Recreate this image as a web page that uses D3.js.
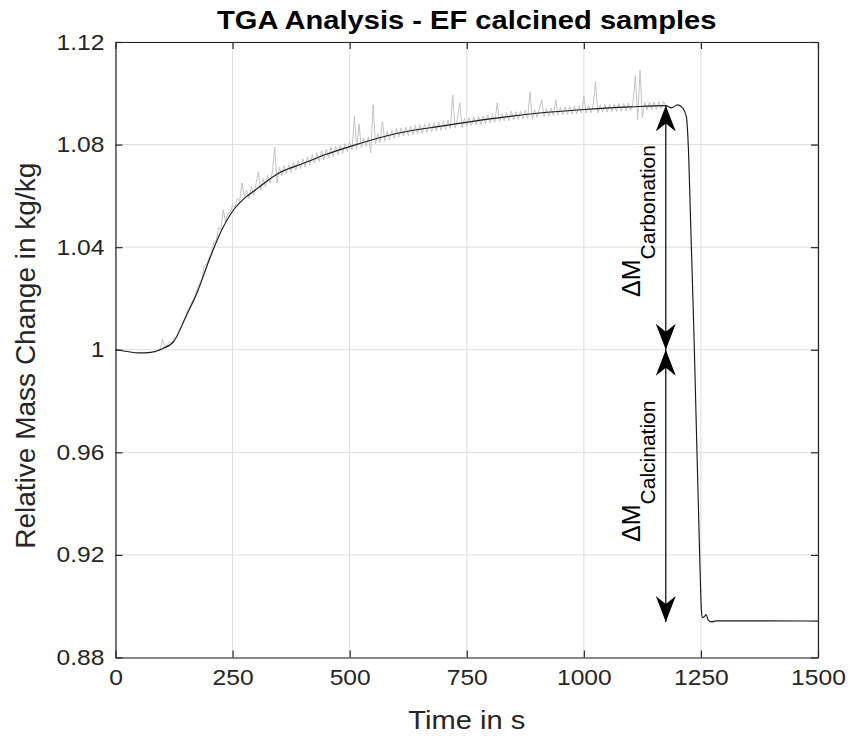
<!DOCTYPE html>
<html>
<head>
<meta charset="utf-8">
<script src="https://cdn.jsdelivr.net/npm/d3@7"></script>
<style>
  body { margin: 0; background: #fff; }
  svg { font-family: "Liberation Sans", Arial, sans-serif; }
</style>
</head>
<body>
<div id="chart"></div>
<script>
// smoothed mass curve (black)
const smoothT = [0, 25, 50, 75, 100, 125, 150, 175, 200, 225, 250, 275, 300, 350, 400, 450, 500, 600, 700, 800, 900, 1000, 1100, 1175, 1187, 1200, 1211, 1219, 1224, 1228, 1233, 1236, 1247, 1251, 1253, 1257, 1261, 1266, 1272, 1283, 1500];
const smoothV = [1.0000, 0.9993, 0.9988, 0.9990, 1.0004, 1.0034, 1.0128, 1.0226, 1.0350, 1.0460, 1.0540, 1.0590, 1.0625, 1.0690, 1.0726, 1.0762, 1.0792, 1.0843, 1.0873, 1.0900, 1.0922, 1.0937, 1.0947, 1.0952, 1.0943, 1.0955, 1.0943, 1.0908, 1.0750, 1.0500, 1.0195, 1.0000, 0.9220, 0.8986, 0.8955, 0.8959, 0.8967, 0.8945, 0.8939, 0.8943, 0.8942];

// raw measured signal (grey), one reading every 5 s from 80 s to 1175 s
const rawT = d3.range(80, 1180, 5);
const rawV = [
  0.9994, 0.9990, 0.9999, 0.9996, 1.0040, 1.0012, 1.0019, 1.0030, 1.0026, 1.0045, 1.0050, 1.0070, 1.0090, 1.0112, 1.0130, 1.0160, 1.0172, 1.0195, 1.0212, 1.0240,
  1.0262, 1.0280, 1.0330, 1.0332, 1.0362, 1.0380, 1.0420, 1.0425, 1.0475, 1.0468, 1.0546, 1.0500, 1.0530, 1.0535, 1.0565, 1.0556, 1.0590, 1.0578, 1.0650, 1.0598,
  1.0622, 1.0590, 1.0638, 1.0602, 1.0648, 1.0694, 1.0622, 1.0668, 1.0636, 1.0680, 1.0650, 1.0695, 1.0790, 1.0650, 1.0712, 1.0678, 1.0718, 1.0686, 1.0722, 1.0692,
  1.0730, 1.0700, 1.0738, 1.0706, 1.0745, 1.0712, 1.0752, 1.0720, 1.0760, 1.0728, 1.0768, 1.0734, 1.0776, 1.0740, 1.0782, 1.0748, 1.0790, 1.0754, 1.0794, 1.0760,
  1.0798, 1.0766, 1.0804, 1.0772, 1.0810, 1.0778, 1.0910, 1.0782, 1.0880, 1.0788, 1.0825, 1.0792, 1.0830, 1.0768, 1.0955, 1.0802, 1.0842, 1.0808, 1.0890, 1.0814,
  1.0852, 1.0818, 1.0856, 1.0824, 1.0862, 1.0830, 1.0865, 1.0833, 1.0868, 1.0836, 1.0872, 1.0838, 1.0875, 1.0842, 1.0878, 1.0845, 1.0880, 1.0848, 1.0884, 1.0850,
  1.0885, 1.0853, 1.0888, 1.0856, 1.0892, 1.0858, 1.0895, 1.0862, 1.0994, 1.0864, 1.0898, 1.0963, 1.0866, 1.0902, 1.0870, 1.0905, 1.0873, 1.0908, 1.0876, 1.0910,
  1.0878, 1.0912, 1.0881, 1.0915, 1.0884, 1.0918, 1.0887, 1.0963, 1.0889, 1.0921, 1.0892, 1.0924, 1.0894, 1.0930, 1.0896, 1.0928, 1.0898, 1.0931, 1.0900, 1.0934,
  1.0902, 1.1006, 1.0898, 1.0936, 1.0906, 1.0938, 1.0975, 1.0908, 1.0940, 1.0911, 1.0942, 1.0913, 1.0975, 1.0914, 1.0945, 1.0916, 1.0946, 1.0918, 1.0948, 1.0919,
  1.0950, 1.0920, 1.0951, 1.0921, 1.0990, 1.0922, 1.0953, 1.0923, 1.0954, 1.1045, 1.0924, 1.0956, 1.0926, 1.0957, 1.0927, 1.0958, 1.0928, 1.0959, 1.0929, 1.0960,
  1.0930, 1.0961, 1.0931, 1.0962, 1.0932, 1.0963, 1.1068, 1.0897, 1.1090, 1.0905, 1.0964, 1.0936, 1.0965, 1.0937, 1.0966, 1.0938, 1.0967, 1.0940, 1.0968, 1.0952
];

const xTicks = [0, 250, 500, 750, 1000, 1250, 1500];
const yTicks = [0.88, 0.92, 0.96, 1.00, 1.04, 1.08, 1.12];
const yTickLabels = ["0.88", "0.92", "0.96", "1", "1.04", "1.08", "1.12"];

// annotation arrows: time, start value, end value
const arrowTime = 1175;
const carbonation = [1.0, 1.0952];
const calcination = [1.0, 0.8938];

const width = 852, height = 738;
const margin = {left: 115.5, right: 34, top: 42, bottom: 80.5};
const sx = 1.12; // glyphs in the reference are horizontally stretched

const x = d3.scaleLinear().domain([0, 1500]).range([margin.left, width - margin.right]);
const y = d3.scaleLinear().domain([0.88, 1.12]).range([height - margin.bottom, margin.top]);

const svg = d3.select("#chart").append("svg")
  .attr("width", width)
  .attr("height", height);

const axisCol = "#262626";

// grid
svg.append("g")
  .selectAll("line")
  .data(xTicks)
  .join("line")
  .attr("x1", d => x(d)).attr("x2", d => x(d))
  .attr("y1", y(0.88)).attr("y2", y(1.12))
  .attr("stroke", "#dedede").attr("stroke-width", 1);
svg.append("g")
  .selectAll("line")
  .data(yTicks)
  .join("line")
  .attr("x1", x(0)).attr("x2", x(1500))
  .attr("y1", d => y(d)).attr("y2", d => y(d))
  .attr("stroke", "#dedede").attr("stroke-width", 1);

// data lines
const raw = rawT.map((t, i) => [t, rawV[i]]);
const smooth = smoothT.map((t, i) => [t, smoothV[i]]);

svg.append("path")
  .datum(raw)
  .attr("fill", "none")
  .attr("stroke", "#c4c4c4")
  .attr("stroke-width", 1)
  .attr("d", d3.line().x(d => x(d[0])).y(d => y(d[1])));

svg.append("path")
  .datum(smooth)
  .attr("fill", "none")
  .attr("stroke", "#1a1a1a")
  .attr("stroke-width", 1.15)
  .attr("d", d3.line().x(d => x(d[0])).y(d => y(d[1])).curve(d3.curveMonotoneX));

// axes (box with inward ticks)
const tickLen = 7;
const axBottom = svg.append("g").attr("transform", `translate(0,${y(0.88)})`)
  .call(d3.axisBottom(x).tickValues(xTicks).tickSizeInner(-tickLen).tickSizeOuter(0).tickFormat(d3.format("d")));
const axTop = svg.append("g").attr("transform", `translate(0,${y(1.12)})`)
  .call(d3.axisTop(x).tickValues(xTicks).tickSizeInner(-tickLen).tickSizeOuter(0).tickFormat(""));
const axLeft = svg.append("g").attr("transform", `translate(${x(0)},0)`)
  .call(d3.axisLeft(y).tickValues(yTicks).tickSizeInner(-tickLen).tickSizeOuter(0)
    .tickFormat((d, i) => yTickLabels[i]));
const axRight = svg.append("g").attr("transform", `translate(${x(1500)},0)`)
  .call(d3.axisRight(y).tickValues(yTicks).tickSizeInner(-tickLen).tickSizeOuter(0).tickFormat(""));

for (const g of [axBottom, axTop, axLeft, axRight]) {
  g.select(".domain").attr("stroke", axisCol).attr("stroke-width", 1.2);
  g.selectAll(".tick line").attr("stroke", axisCol).attr("stroke-width", 1.2);
  g.selectAll("text").attr("font-size", 22).attr("fill", axisCol)
    .attr("font-family", "Liberation Sans, Arial, sans-serif");
}
axBottom.selectAll(".tick text").attr("transform", `scale(${sx},1)`).attr("y", 12).attr("dy", "0.71em");
axLeft.selectAll(".tick text").attr("transform", `scale(${sx},1)`).attr("x", -11 / sx);

// title
svg.append("text")
  .attr("transform", `translate(${(x(0) + x(1500)) / 2},29) scale(${sx},1)`)
  .attr("text-anchor", "middle")
  .attr("font-size", 26)
  .attr("font-weight", "bold")
  .attr("fill", "#000")
  .text("TGA Analysis - EF calcined samples");

// axis labels
svg.append("text")
  .attr("transform", `translate(${(x(0) + x(1500)) / 2},729) scale(${sx},1)`)
  .attr("text-anchor", "middle")
  .attr("font-size", 26)
  .attr("fill", axisCol)
  .text("Time in s");

svg.append("text")
  .attr("transform", `translate(35,${y(1.0) + 6}) rotate(-90)`)
  .attr("text-anchor", "middle")
  .attr("font-size", 28)
  .attr("fill", axisCol)
  .text("Relative Mass Change in kg/kg");

// arrows
const head = "M0,0 L-10,-26 L0,-18 L10,-26 Z";
function arrow(v0, v1) {
  const g = svg.append("g");
  const xa = x(arrowTime);
  g.append("line")
    .attr("x1", xa).attr("x2", xa)
    .attr("y1", y(v0)).attr("y2", y(v1))
    .attr("stroke", "#000").attr("stroke-width", 1.2);
  for (const [tip, other] of [[v0, v1], [v1, v0]]) {
    const ang = y(tip) > y(other) ? 0 : 180;
    g.append("path")
      .attr("d", head)
      .attr("transform", `translate(${xa},${y(tip)}) rotate(${ang})`)
      .attr("fill", "#000");
  }
}
arrow(carbonation[0], carbonation[1]);
arrow(calcination[0], calcination[1]);

// arrow labels: Delta M with subscript
function deltaLabel(sub, yStart) {
  const t = svg.append("text")
    .attr("transform", `translate(640,${yStart}) rotate(-90)`)
    .attr("fill", "#000");
  t.append("tspan").attr("font-size", 25).text("\u0394M");
  t.append("tspan").attr("font-size", 21).attr("dy", 15).text(sub);
}
deltaLabel("Carbonation", 297);
deltaLabel("Calcination", 542);
</script>
</body>
</html>
